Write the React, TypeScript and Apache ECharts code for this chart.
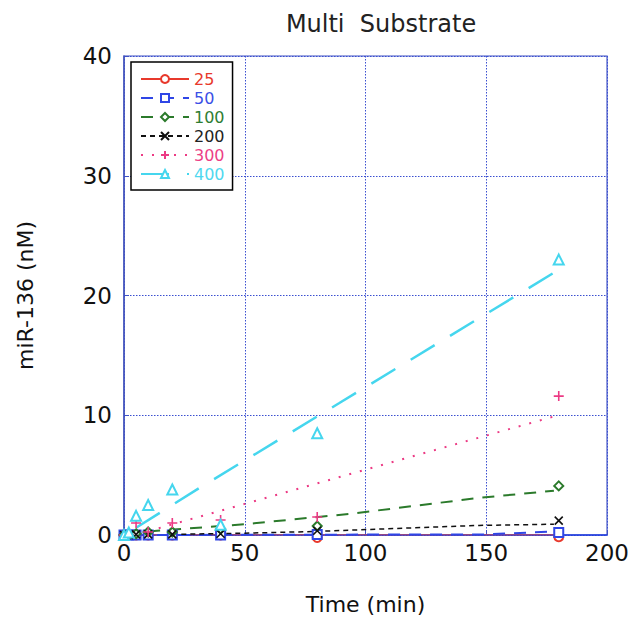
import React, { useEffect, useRef } from "react";
import * as echarts from "echarts";

// Measurement times (min)
const times = [0, 2, 5, 10, 20, 40, 80, 180];

// Measured miR-136 (nM) per substrate concentration
const s25 = [0, 0, 0, 0, 0, 0, -0.2, -0.15];
const s50 = [0, 0, 0, 0, 0, 0, 0.05, 0.2];
const s100 = [0, 0, 0.1, 0.25, 0.25, 0.5, 0.75, 4.1];
const s200 = [0, 0, 0.05, 0.05, 0.05, 0.1, 0.35, 1.2];
const s300 = [0, 0, 1.0, 0.25, 1.0, 1.25, 1.5, 11.6];
const s400 = [0, 0.2, 1.6, 2.5, 3.8, 0.85, 8.5, 23.0];

// Fitted curves (time, value)
const fitT25 = [5, 178];
const fitV25 = [0, 0];
const fitT50 = [5, 150, 178];
const fitV50 = [0, 0.05, 0.3];
const fitT100 = [10, 50, 95, 147, 178];
const fitV100 = [0.3, 0.9, 1.8, 3.1, 3.7];
const fitT200 = [20, 50, 80, 147, 178];
const fitV200 = [0.05, 0.15, 0.3, 0.8, 0.9];
const fitT300 = [10, 50, 85, 178];
const fitV300 = [0.32, 2.6, 4.6, 9.9];
const fitT400 = [5, 31, 89, 178];
const fitV400 = [0.6, 3.9, 11.0, 21.9];

const names = ["25", "50", "100", "200", "300", "400"];
const colors = ["#e8392c", "#2f46e6", "#2b7a2b", "#111111", "#ec3a84", "#45d6ee"];
const textColors = ["#e8392c", "#3a4fe6", "#2e7d32", "#222222", "#ec3f86", "#4fd8ef"];

const xTicks = [0, 50, 100, 150, 200];
const yTicks = [0, 10, 20, 30, 40];

const FONT = "DejaVu Sans";

const pair = (t: number[], v: number[]) => t.map((x, i) => [x, v[i]]);

export default function App() {
  const ref = useRef<HTMLDivElement>(null);
  useEffect(() => {
    if (!ref.current) return;
    const chart = echarts.init(ref.current, null, { renderer: "svg" });
    const marks = [s25, s50, s100, s200, s300, s400];
    const fitsT = [fitT25, fitT50, fitT100, fitT200, fitT300, fitT400];
    const fitsV = [fitV25, fitV50, fitV100, fitV200, fitV300, fitV400];
    const symbols = [
      "emptyCircle",
      "emptyRect",
      "emptyDiamond",
      "path://M0,0L10,10M10,0L0,10",
      "path://M5,0L5,10M0,5L10,5",
      "emptyTriangle",
    ];
    const sizes = [9, 9, 9, 8, 10, 10];
    const dashes: any[] = ["solid", [12, 9], [12, 9], [5, 4], [2, 9], [28, 18]];
    const widths = [1.2, 2, 2, 1.5, 2, 2.5];

    const fitSeries = names.map((n, i) => ({
      name: n,
      type: "line",
      data: pair(fitsT[i], fitsV[i]),
      symbol: symbols[i],
      symbolSize: sizes[i],
      showSymbol: false,
      lineStyle: { color: colors[i], width: widths[i], type: dashes[i] },
      itemStyle: { color: colors[i], borderColor: colors[i], borderWidth: 1.6 },
      z: 2,
      silent: true,
    }));
    const markSeries = names.map((n, i) => ({
      name: n,
      type: "line",
      data: pair(times, marks[i]),
      symbol: symbols[i],
      symbolSize: sizes[i],
      showSymbol: true,
      clip: false,
      lineStyle: { width: 0, opacity: 0 },
      itemStyle: { color: colors[i], borderColor: colors[i], borderWidth: 1.6 },
      z: 3,
      silent: true,
    }));

    chart.setOption({
      animation: false,
      backgroundColor: "#ffffff",
      title: {
        text: "Multi  Substrate",
        left: 376,
        top: 7,
        textAlign: "center",
        textStyle: { fontFamily: FONT, fontSize: 24, fontWeight: "normal", color: "#222" },
      },
      legend: {
        orient: "vertical",
        left: 131,
        top: 62,
        backgroundColor: "#ffffff",
        borderColor: "#000",
        borderWidth: 1.5,
        padding: [9, 8, 8, 9],
        itemGap: 3,
        itemWidth: 48,
        itemHeight: 10,
        selectedMode: false,
        textStyle: { fontFamily: FONT, fontSize: 16 },
        data: names.map((n, i) => ({ name: n, textStyle: { color: textColors[i] } })),
      },
      grid: {
        left: 124,
        right: 24,
        top: 56,
        bottom: 88,
        show: true,
        borderColor: "#3f51c4",
        borderWidth: 1.2,
      },
      xAxis: {
        type: "value",
        min: xTicks[0],
        max: xTicks[xTicks.length - 1],
        interval: 50,
        name: "Time (min)",
        nameLocation: "middle",
        nameGap: 58,
        nameTextStyle: { fontFamily: FONT, fontSize: 22, color: "#111" },
        axisLine: { show: true, lineStyle: { color: "#1f3ce0", width: 1.5 } },
        axisTick: { show: true, inside: true, length: 5, lineStyle: { color: "#3f51c4" } },
        axisLabel: { fontFamily: FONT, fontSize: 23, color: "#111", margin: 6 },
        splitLine: { show: true, lineStyle: { color: "#3a4fd0", type: [1.5, 1.5], width: 1 } },
      },
      yAxis: {
        type: "value",
        min: yTicks[0],
        max: yTicks[yTicks.length - 1],
        interval: 10,
        name: "miR-136 (nM)",
        nameLocation: "middle",
        nameGap: 88,
        nameTextStyle: { fontFamily: FONT, fontSize: 22, color: "#111" },
        axisLine: { show: true, lineStyle: { color: "#4455bb", width: 1.5 } },
        axisTick: { show: true, inside: true, length: 5, lineStyle: { color: "#3f51c4" } },
        axisLabel: { fontFamily: FONT, fontSize: 23, color: "#111", margin: 12 },
        splitLine: { show: true, lineStyle: { color: "#3a4fd0", type: [1.5, 1.5], width: 1 } },
      },
      series: [...fitSeries, ...markSeries],
    });
    return () => chart.dispose();
  }, []);
  return (
    <div
      ref={ref}
      style={{ position: "absolute", left: 0, top: 0, width: 632, height: 623 }}
    />
  );
}
